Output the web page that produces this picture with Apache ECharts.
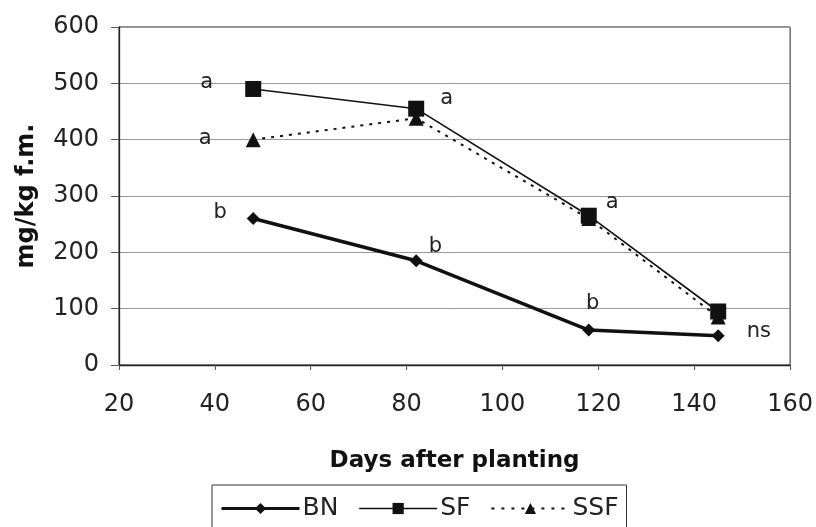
<!DOCTYPE html>
<html><head><meta charset="utf-8">
<script src="https://cdn.jsdelivr.net/npm/echarts@6/dist/echarts.min.js"></script>
<style>html,body{margin:0;padding:0;background:#fff}#c{width:816px;height:527px}</style>
</head><body><div id="c"></div>
<script>
const days = [48, 82, 118, 145];
const bnValues = [260, 185, 62, 52];
const sfValues = [490, 455, 265, 95];
const ssfValues = [400, 438, 260, 85];
const bnSig = ['b', 'b', 'b', 'ns'];
const sfSig = ['a', 'a', 'a', ''];
const ssfSig = ['a', '', '', ''];
const xTicks = [20, 40, 60, 80, 100, 120, 140, 160];
const yTicks = [0, 100, 200, 300, 400, 500, 600];

const FONT = '"DejaVu Sans", sans-serif';
const bnLab = [
  {position:'left', distance:20, offset:[0,-6]},
  {position:'right', distance:6, offset:[0,-14]},
  {position:'top', distance:10, offset:[4,0]},
  {position:'right', distance:22, offset:[0,-4]}
];
const sfLab = [
  {position:'left', distance:32, offset:[0,-6]},
  {position:'right', distance:16, offset:[0,-10]},
  {position:'right', distance:9, offset:[0,-13]},
  {}
];
const ssfLab = [
  {position:'left', distance:34, offset:[0,-1]},
  {}, {}, {}
];
function build(vals, sig, lab) {
  return days.map((d, i) => {
    const item = {value: [d, vals[i]]};
    if (sig[i]) {
      item.label = Object.assign({show:true, formatter: sig[i], fontSize:21, color:'#222', fontFamily:FONT}, lab[i]);
    }
    return item;
  });
}
const chart = echarts.init(document.getElementById('c'));
chart.setOption({
  backgroundColor:'#fff',
  animation:false,
  grid:{left:119, right:24, top:27, bottom:162, show:true, borderColor:'#222', borderWidth:1, backgroundColor:'transparent'},
  xAxis:{type:'value', min:xTicks[0], max:xTicks[xTicks.length-1], interval:20,
    name:'Days after planting', nameLocation:'middle', nameGap:85,
    nameTextStyle:{fontSize:23, fontWeight:'bold', color:'#111', fontFamily:FONT},
    axisLine:{lineStyle:{color:'#222', width:1.3}},
    axisTick:{show:true, length:5, lineStyle:{color:'#555'}},
    axisLabel:{fontSize:24, color:'#222', margin:28, fontFamily:FONT},
    splitLine:{show:false}},
  yAxis:{type:'value', min:yTicks[0], max:yTicks[yTicks.length-1], interval:100,
    name:'mg/kg f.m.', nameLocation:'middle', nameGap:80,
    nameTextStyle:{fontSize:24, fontWeight:'bold', color:'#111', fontFamily:FONT},
    axisLine:{show:true, lineStyle:{color:'#222', width:1.3}},
    axisTick:{show:true, length:8, lineStyle:{color:'#555'}},
    axisLabel:{fontSize:24, color:'#222', margin:20, fontFamily:FONT},
    splitLine:{lineStyle:{color:'#999', width:1}}},
  legend:{top:485, left:212, itemWidth:78, itemHeight:14, itemGap:20,
    borderColor:'#333', borderWidth:1, borderRadius:0, padding:[11,8,14,8],
    textStyle:{fontSize:25, color:'#222', fontFamily:FONT, padding:[0,0,0,-2]},
    data:[
      {name:'BN', lineStyle:{width:3}},
      {name:'SF', lineStyle:{width:1.6}},
      {name:'SSF', lineStyle:{width:2, type:[3,7]}}
    ]},
  series:[
    {name:'BN', type:'line', data:build(bnValues, bnSig, bnLab), symbol:'diamond', symbolSize:13,
      lineStyle:{color:'#111', width:3.5}, itemStyle:{color:'#111'}, z:3},
    {name:'SF', type:'line', data:build(sfValues, sfSig, sfLab), symbol:'rect', symbolSize:16,
      lineStyle:{color:'#111', width:1.6}, itemStyle:{color:'#111'}, z:4},
    {name:'SSF', type:'line', data:build(ssfValues, ssfSig, ssfLab), symbol:'triangle', symbolSize:15,
      lineStyle:{color:'#111', width:2, type:[3,6]}, itemStyle:{color:'#111'}, z:2}
  ]
});
</script></body></html>
